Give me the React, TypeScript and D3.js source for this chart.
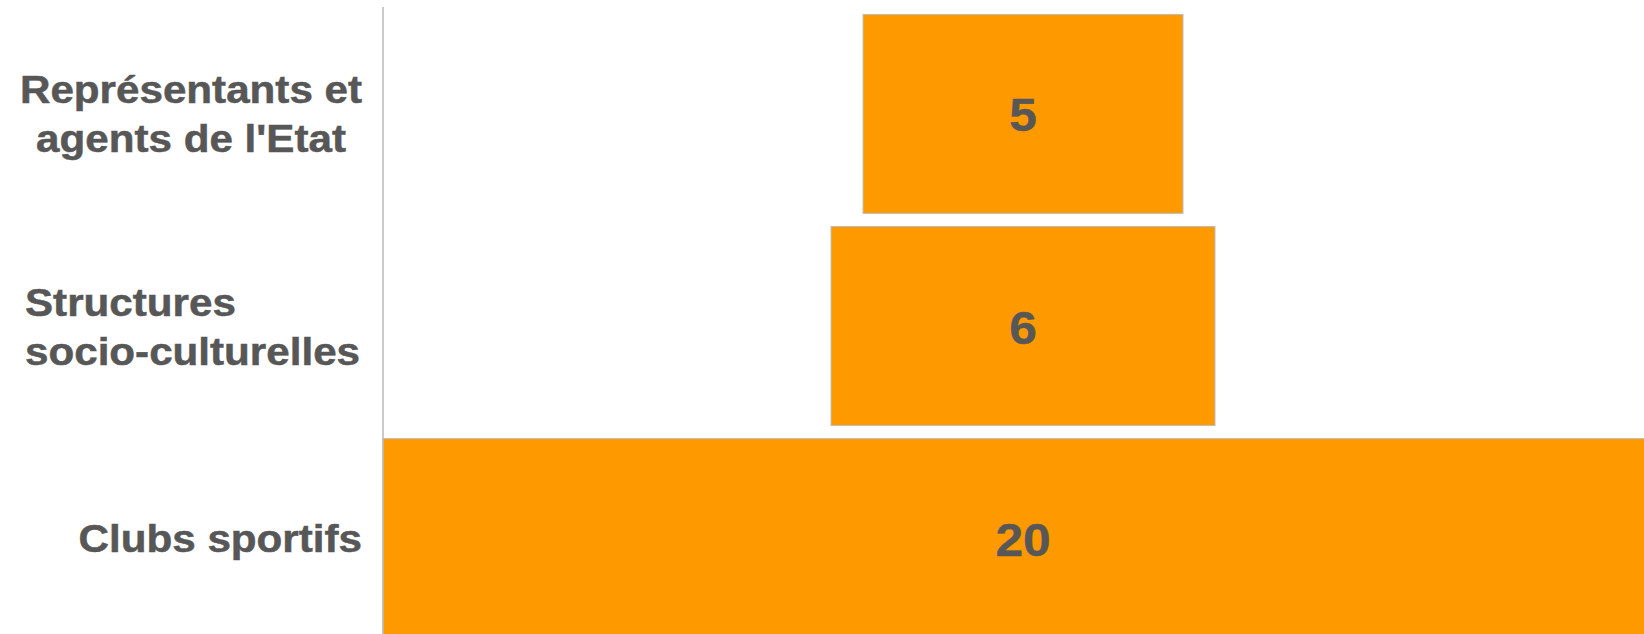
import React from "react";
import * as d3 from "d3";

const categories = ["Représentants et agents de l'Etat", "Structures socio-culturelles", "Clubs sportifs"];
const labelLines = [["Représentants et", "agents de l'Etat"], ["Structures", "socio-culturelles"], ["Clubs sportifs"]];
const labelAlign = ["middle", "start", "end"];
const values = [5, 6, 20];

const W = 1644;
const H = 634;
const CENTER_X = 1023;
const AXIS_X = 383;
const ORANGE = "#FF9900";
const TEXT = "#575757";

export default function App() {
  const y = d3.scaleBand<string>().domain(categories).range([7, 645]).paddingInner(0.062).paddingOuter(0.035);
  const half = d3.scaleLinear().domain([0, 20]).range([0, 640]);
  const labelX: Record<string, number> = { start: 25, middle: 191, end: 362 };
  const lineH = 49;
  const fs = 38;
  const sx = 1.11;

  return (
    <svg width={W} height={H} style={{ position: "absolute", left: 0, top: 0, display: "block", background: "#fff" }}>
      <defs>
        <clipPath id="clip">
          <rect x={0} y={0} width={W} height={H} />
        </clipPath>
      </defs>
      <g clipPath="url(#clip)">
        {categories.map((c, i) => {
          const y0 = y(c)!;
          const bw = y.bandwidth();
          const hw = half(values[i]);
          return (
            <rect key={c} x={CENTER_X - hw} y={y0} width={2 * hw} height={bw} fill={ORANGE} stroke="#bdbdbd" strokeWidth={1} />
          );
        })}
        <line x1={AXIS_X} x2={AXIS_X} y1={7} y2={H} stroke="#b8b8b8" strokeWidth={1.5} />
        {categories.map((c, i) => {
          const cy = y(c)! + y.bandwidth() / 2;
          const lines = labelLines[i];
          const n = lines.length;
          const anchor = labelAlign[i];
          const x = labelX[anchor];
          return (
            <g key={"l" + c}>
              {lines.map((ln, j) => {
                const by = cy + fs * 0.37 + (j - (n - 1) / 2) * lineH;
                return (
                  <text
                    key={j}
                    transform={`translate(${x},${by}) scale(${sx},1)`}
                    textAnchor={anchor}
                    fontFamily="'Liberation Sans', Arial, sans-serif"
                    fontWeight="bold"
                    fontSize={fs}
                    fill={TEXT}
                    stroke={TEXT}
                    strokeWidth={0.5}
                  >
                    {ln}
                  </text>
                );
              })}
            </g>
          );
        })}
        {categories.map((c, i) => {
          const cy = y(c)! + y.bandwidth() / 2;
          return (
            <text
              key={"v" + c}
              transform={`translate(${CENTER_X},${cy + 17.5}) scale(1.08,1)`}
              textAnchor="middle"
              fontFamily="'Liberation Sans', Arial, sans-serif"
              fontWeight="bold"
              fontSize={46}
              fill={TEXT}
              stroke={TEXT}
              strokeWidth={0.4}
            >
              {values[i]}
            </text>
          );
        })}
      </g>
    </svg>
  );
}
